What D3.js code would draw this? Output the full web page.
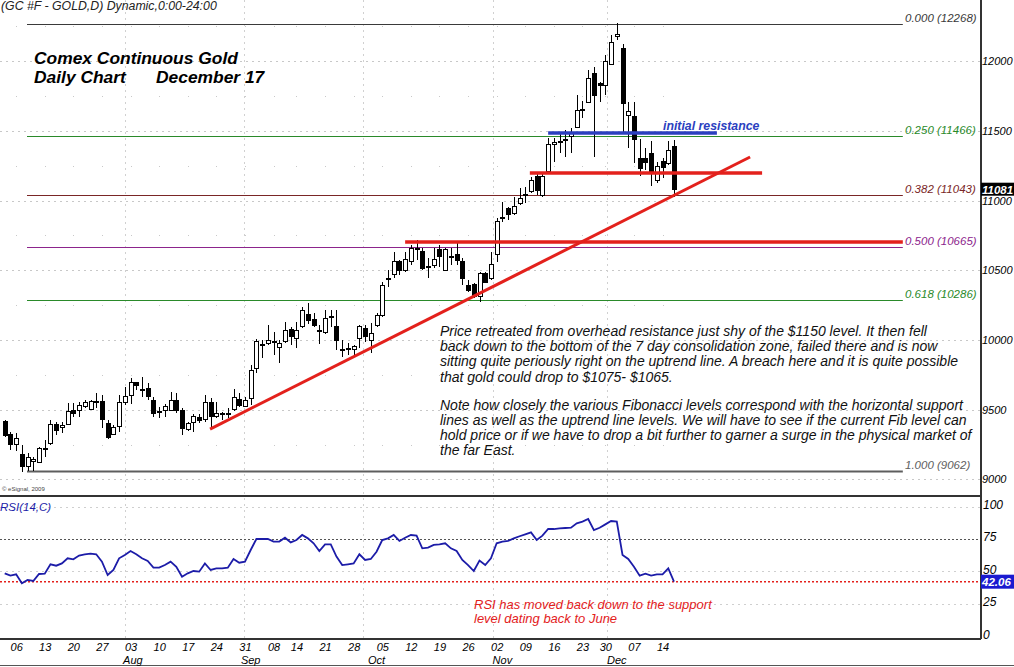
<!DOCTYPE html>
<html>
<head>
<meta charset="utf-8">
<script src="https://cdn.jsdelivr.net/npm/d3@7"></script>
<style>
body { margin: 0; background: #fff; }
svg { display: block; font-family: "Liberation Sans", Arial, sans-serif; font-style: italic; }
</style>
</head>
<body>
<svg id="chart" width="1014" height="667"></svg>
<script>
// Daily OHLC, one entry per trading day (Jul 1 .. Dec 17, 2009), dollars
var open = [941.4,932.5,925.1,917.5,909.6,912.7,912.2,921.5,925.4,939.7,
  937.5,939.5,949.7,949.7,952.6,950.2,955.2,956.2,940.2,932.3,
  937.8,955.0,960.5,969.3,964.8,965.3,956.9,948.2,949.3,949.7,
  956.9,949.3,935.9,940.7,944.3,943.1,955.0,945.0,947.2,947.0,
  950.2,957.4,952.1,958.1,979.6,996.3,997.5,999.2,994.7,998.7,
  1007.6,1001.1,1009.5,1017.9,1014.8,1006.9,1005.2,1016.0,1009.5,993.5,
  993.7,993.2,1001.1,1008.3,999.9,1010.7,1017.8,1043.6,1047.0,1056.1,
  1050.1,1056.1,1065.2,1063.7,1052.2,1053.7,1065.2,1050.1,1059.4,1061.3,
  1056.1,1038.9,1039.8,1031.0,1047.7,1044.1,1061.3,1086.8,1094.3,1090.7,
  1097.9,1103.6,1106.3,1117.1,1103.9,1120.7,1140.5,1142.0,1144.1,1145.8,
  1152.5,1165.1,1170.4,1191.2,1184.0,1182.3,1197.6,1217.8,1209.1,1161.3,
  1160.1,1129.8,1130.2,1133.8,1114.7,1128.3,1126.6,1138.6];
var high = [942.6,934.2,933.0,924.7,918.7,916.3,923.5,928.2,942.6,941.4,
  941.4,954.5,954.5,955.7,956.9,956.9,962.2,960.5,942.6,939.0,
  960.5,966.5,972.5,970.1,973.7,968.9,959.3,952.1,954.1,962.9,
  961.7,951.0,941.4,946.9,946.9,960.5,958.1,955.7,948.6,951.0,
  964.6,962.2,959.3,982.0,1000.4,999.9,1010.7,1005.9,999.9,1013.1,
  1009.5,1013.1,1023.8,1026.7,1019.1,1010.7,1021.5,1021.5,1021.5,999.9,
  998.0,996.4,1010.7,1010.7,1011.9,1019.0,1041.7,1050.1,1062.8,1057.3,
  1062.8,1068.0,1071.6,1065.6,1059.0,1065.6,1068.0,1065.6,1065.6,1069.2,
  1059.0,1042.9,1040.6,1048.4,1048.9,1062.8,1087.2,1099.1,1095.5,1102.7,
  1108.7,1109.9,1117.1,1119.4,1119.4,1144.6,1144.6,1149.4,1150.5,1151.7,
  1175.6,1171.3,1193.6,1196.0,1185.2,1204.3,1218.7,1227.5,1212.0,1170.4,
  1170.4,1144.1,1137.4,1142.7,1127.8,1130.7,1142.7,1143.4];
var low = [930.6,921.1,920.6,905.5,906.3,906.3,911.5,916.3,924.7,931.8,
  933.0,939.0,945.0,945.0,951.0,949.7,951.0,936.6,928.7,931.8,
  934.2,953.3,954.1,964.1,959.3,956.9,945.0,943.8,945.0,949.3,
  947.4,931.8,934.9,934.2,940.2,941.4,936.6,943.8,942.6,943.8,
  949.3,952.1,951.7,953.3,976.0,986.8,996.3,989.2,983.7,997.5,
  996.3,994.0,1008.3,1011.4,1009.5,997.1,1004.2,1009.5,992.8,988.0,
  989.2,988.0,994.0,998.7,990.4,1009.0,1016.5,1038.2,1044.1,1046.5,
  1048.9,1053.7,1057.3,1050.1,1044.1,1051.3,1052.5,1049.4,1053.7,1053.7,
  1039.4,1034.6,1029.8,1027.4,1040.6,1042.9,1056.1,1084.8,1086.0,1089.5,
  1096.7,1097.9,1105.1,1103.9,1102.7,1119.5,1127.8,1133.8,1131.4,1133.8,
  1151.7,1158.9,1169.7,1131.4,1170.4,1175.6,1197.1,1215.1,1148.2,1137.4,
  1126.6,1117.8,1121.9,1110.6,1112.3,1115.9,1125.5,1102.7];
var close = [931.8,924.7,929.4,909.6,915.8,914.4,922.3,922.5,939.7,935.4,
  938.5,948.6,947.4,953.3,955.0,955.7,956.2,942.6,930.2,937.1,
  955.2,959.3,969.3,967.0,964.0,959.8,947.4,948.9,952.6,956.9,
  949.3,936.6,940.2,945.0,942.1,955.0,945.0,946.9,946.6,947.6,
  958.8,953.3,956.9,978.4,998.7,996.8,999.9,998.0,997.1,1006.6,
  1002.3,1007.1,1021.0,1014.3,1010.7,1006.4,1015.5,1016.6,999.9,992.8,
  994.2,995.2,1009.5,1002.3,1004.7,1017.8,1039.4,1044.4,1056.1,1050.1,
  1057.8,1065.6,1065.9,1051.3,1052.8,1058.0,1059.7,1064.9,1060.0,1057.3,
  1044.1,1035.8,1031.0,1047.7,1041.3,1054.2,1084.8,1087.5,1090.0,1095.5,
  1101.5,1104.1,1114.2,1107.5,1117.1,1139.8,1141.5,1142.5,1142.7,1148.2,
  1164.4,1165.6,1187.6,1175.6,1182.3,1200.0,1213.4,1218.7,1169.7,1163.7,
  1144.1,1122.6,1127.4,1120.7,1124.3,1123.5,1136.2,1108.1];

// RSI(14,C) per day
var rsi = [48.5,46.7,47.7,40.8,43.4,42.6,48.0,48.3,55.5,54.4,
  56.2,60.1,59.3,62.2,63.2,63.7,63.2,57.5,47.2,51.1,
  60.1,62.7,65.7,63.2,60.1,58.0,52.9,52.9,54.9,57.5,
  53.6,45.9,48.5,50.3,49.8,56.2,51.1,52.4,52.4,52.9,
  59.6,56.7,57.5,66.5,75.0,75.0,75.0,73.0,73.0,76.0,
  72.4,74.2,78.1,75.5,71.7,65.7,70.9,70.9,61.4,54.9,
  55.5,56.2,63.2,58.8,59.6,65.2,74.2,75.5,78.1,73.5,
  76.0,78.1,77.6,67.8,68.3,70.4,70.9,71.7,67.8,65.7,
  58.8,54.9,50.3,58.3,54.9,60.1,71.7,73.0,73.5,75.5,
  77.1,78.6,80.1,74.2,77.6,82.7,82.7,83.2,83.5,83.7,
  87.1,88.4,90.4,81.9,83.7,86.3,88.9,88.4,62.7,59.6,
  53.6,46.7,48.3,46.7,47.7,47.7,52.4,42.06];

// axis ticks
var priceTicks = [900, 950, 1000, 1050, 1100, 1150, 1200];
var rsiTicks = [0, 25, 50, 75, 100];
var weekIdx = [2,7,12,17,22,27,32,37,42,47,51,56,61,66,71,76,81,86,91,96,101,105,110,115];
var weekLabels = ["06","13","20","27","03","10","17","24","31","08","14","21","28","05","12","19","26","02","09","16","23","30","07","14"];
var monthIdx = [22.4, 43, 65, 87, 107];
var monthLabels = ["Aug", "Sep", "Oct", "Nov", "Dec"];
var monthGridIdx = [21, 41.8, 62.6, 85.3, 105.3];

// Fibonacci retracement (swing low Jul 8 -> high Dec 3)
var fibRatio = ["0.000", "0.250", "0.382", "0.500", "0.618", "1.000"];
var fibPrice = [1226.8, 1146.6, 1104.3, 1066.5, 1028.6, 906.2];
var fibColor = ["#3a3a3a", "#2a8a2a", "#7a2626", "#8c248c", "#2a8a2a", "#5e5e5e"];

// hand drawn studies: [index, price] ends
var trendLine = [[35.9, 936.1], [130.3, 1131.2]];
var supportLines = [[[70, 1070.2], [157, 1070.2]], [[91.8, 1119.7], [132.4, 1119.7]]];
var resistLine = [[95, 1148.4], [124.5, 1148.4]];
var rsiSupport = 42.06;

var note = [
  "Price retreated from overhead resistance just shy of the $1150 level. It then fell",
  "back down to the bottom of the 7 day consolidation zone, failed there and is now",
  "sitting quite periously right on the uptrend line. A breach here and it is quite possible",
  "that gold could drop to $1075- $1065.",
  "Note how closely the various Fibonacci levels correspond with the horizontal support",
  "lines as well as the uptrend line levels. We will have to see if the current Fib level can",
  "hold price or if we have to drop a bit further to garner a surge in the physical market of",
  "the far East."
];

var AX = 981, PANEL_BOT = 496, RSI_BOT = 639;
var svg = d3.select("#chart");
var x = d3.scaleLinear().domain([0, 117]).range([4.7, 674]);
var y = d3.scaleLinear().domain([900, 1200]).range([479.4, 61.05]);
var yR = d3.scaleLinear().domain([0, 100]).range([636.2, 506.6]);
var n = open.length;
var days = d3.range(n);

// grid
var grid = svg.append("g").attr("shape-rendering", "crispEdges");
grid.selectAll(".gh").data(priceTicks).enter().append("line")
  .attr("x1", 0).attr("x2", AX)
  .attr("y1", function(d) { return Math.round(y(d)) + 0.5; })
  .attr("y2", function(d) { return Math.round(y(d)) + 0.5; })
  .attr("stroke", "#c8c8c8").attr("stroke-dasharray", "2,4");
grid.selectAll(".gv").data(monthGridIdx).enter().append("line")
  .attr("x1", function(d) { return Math.round(x(d)) + 0.5; })
  .attr("x2", function(d) { return Math.round(x(d)) + 0.5; })
  .attr("y1", 0).attr("y2", RSI_BOT)
  .attr("stroke", "#d0d0d0").attr("stroke-dasharray", "2,4");
// sparse minor dots
var minor = [];
weekIdx.forEach(function(w) { [925, 975, 1025, 1075, 1125, 1175, 1225].forEach(function(p) { minor.push([w, p]); }); });
grid.selectAll(".gm").data(minor).enter().append("rect")
  .attr("x", function(d) { return Math.round(x(d[0])); })
  .attr("y", function(d) { return Math.round(y(d[1])); })
  .attr("width", 1).attr("height", 1).attr("fill", "#c8c8c8");
grid.selectAll(".gr").data([25, 50, 100]).enter().append("line")
  .attr("x1", 0).attr("x2", AX)
  .attr("y1", function(d) { return Math.round(yR(d)) + 0.5; })
  .attr("y2", function(d) { return Math.round(yR(d)) + 0.5; })
  .attr("stroke", "#cfcfcf").attr("stroke-dasharray", "2,4");
grid.append("line").attr("x1", 0).attr("x2", AX)
  .attr("y1", Math.round(yR(75)) + 0.5).attr("y2", Math.round(yR(75)) + 0.5)
  .attr("stroke", "#555").attr("stroke-dasharray", "2,2");

// fib levels
var fib = svg.append("g");
fib.selectAll("line").data(fibPrice).enter().append("line")
  .attr("x1", x(3.9)).attr("x2", x(157))
  .attr("y1", function(d) { return Math.round(y(d)) + 0.5; })
  .attr("y2", function(d) { return Math.round(y(d)) + 0.5; })
  .attr("stroke", function(d, i) { return fibColor[i]; })
  .attr("stroke-width", function(d, i) { return i === 5 ? 2 : 1; });
fib.selectAll("text").data(fibPrice).enter().append("text")
  .attr("x", 905).attr("y", function(d) { return y(d) - 2; })
  .attr("font-size", "11.5px")
  .attr("fill", function(d, i) { return fibColor[i]; })
  .text(function(d, i) { return fibRatio[i] + " (" + Math.round(d * 10) + ")"; });

// candles
var cg = svg.append("g").attr("shape-rendering", "crispEdges");
cg.selectAll("line").data(days).enter().append("line")
  .attr("x1", function(i) { return Math.round(x(i)) + 0.5; })
  .attr("x2", function(i) { return Math.round(x(i)) + 0.5; })
  .attr("y1", function(i) { return y(high[i]); })
  .attr("y2", function(i) { return y(low[i]); })
  .attr("stroke", "#000");
cg.selectAll("rect").data(days).enter().append("rect")
  .attr("x", function(i) { return Math.round(x(i)) - 1.5; })
  .attr("width", 4)
  .attr("y", function(i) { return y(Math.max(open[i], close[i])); })
  .attr("height", function(i) { return Math.max(1, Math.abs(y(open[i]) - y(close[i]))); })
  .attr("fill", function(i) { return close[i] >= open[i] ? "#fff" : "#000"; })
  .attr("stroke", "#000").attr("stroke-width", 1);

// studies
var ln = d3.line().x(function(d) { return x(d[0]); }).y(function(d) { return y(d[1]); });
svg.selectAll(".sup").data(supportLines).enter().append("path")
  .attr("d", ln).attr("stroke", "#e3211c").attr("stroke-width", 3.5).attr("fill", "none");
svg.append("path").datum(resistLine).attr("d", ln)
  .attr("stroke", "#2b3fbf").attr("stroke-width", 3.5).attr("fill", "none");
svg.append("path").datum(trendLine).attr("d", ln)
  .attr("stroke", "#e3211c").attr("stroke-width", 3).attr("fill", "none");
svg.append("text").attr("x", 663).attr("y", 130).attr("font-size", "12.3px").attr("font-weight", "bold")
  .attr("fill", "#2b3fbf").text("initial resistance");

// RSI panel
svg.append("line").attr("x1", 0).attr("x2", AX)
  .attr("y1", yR(rsiSupport)).attr("y2", yR(rsiSupport))
  .attr("stroke", "#e3211c").attr("stroke-width", 1.5).attr("stroke-dasharray", "2,2");
svg.append("path").datum(days)
  .attr("d", d3.line().x(function(i) { return x(i); }).y(function(i) { return yR(rsi[i]); }))
  .attr("stroke", "#1c1ca8").attr("stroke-width", 1.8).attr("fill", "none");

// frame
var fr = svg.append("g").attr("stroke", "#333").attr("shape-rendering", "crispEdges");
fr.append("line").attr("x1", 0).attr("x2", AX).attr("y1", PANEL_BOT).attr("y2", PANEL_BOT).attr("stroke-width", 1.5);
fr.append("line").attr("x1", 0).attr("x2", AX).attr("y1", RSI_BOT).attr("y2", RSI_BOT).attr("stroke-width", 1.5);
fr.append("line").attr("x1", AX).attr("x2", AX).attr("y1", 0).attr("y2", RSI_BOT).attr("stroke-width", 1.5);
fr.append("line").attr("x1", 0).attr("x2", 1014).attr("y1", 665.5).attr("y2", 665.5).attr("stroke", "#555");

// axes
var ay = svg.append("g").attr("transform", "translate(" + AX + ",0)")
  .call(d3.axisRight(y).tickValues(priceTicks).tickSize(0).tickPadding(1)
    .tickFormat(function(d) { return d * 10; }));
var ar = svg.append("g").attr("transform", "translate(" + AX + ",-2)")
  .call(d3.axisRight(yR).tickValues(rsiTicks).tickSize(0).tickPadding(2));
var ax = svg.append("g").attr("transform", "translate(0," + RSI_BOT + ")")
  .call(d3.axisBottom(x).tickValues(weekIdx).tickSize(0).tickPadding(4)
    .tickFormat(function(d, i) { return weekLabels[i]; }));
[ay, ar, ax].forEach(function(a) {
  a.select(".domain").remove();
  a.selectAll("text").attr("font-family", null).attr("font-size", "11px").attr("fill", "#000");
});
ar.selectAll("text").attr("font-size", "12px");
svg.selectAll(".month").data(monthLabels).enter().append("text")
  .attr("x", function(d, i) { return x(monthIdx[i]); }).attr("y", 664)
  .attr("text-anchor", "middle").attr("font-size", "11px").text(function(d) { return d; });

// last value boxes
var last = close[n - 1];
svg.append("rect").attr("x", AX).attr("y", y(last) - 6.5).attr("width", 34).attr("height", 13).attr("fill", "#000");
svg.append("text").attr("x", AX + 1).attr("y", y(last) + 4.5).attr("font-size", "11.5px")
  .attr("font-weight", "bold").attr("fill", "#fff").text(Math.round(last * 10));
svg.append("rect").attr("x", AX).attr("y", yR(rsiSupport) - 7).attr("width", 34).attr("height", 14).attr("fill", "#1a1ad0");
svg.append("text").attr("x", AX + 1).attr("y", yR(rsiSupport) + 4.5).attr("font-size", "11.5px")
  .attr("font-weight", "bold").attr("fill", "#fff").text(rsiSupport.toFixed(2));

// texts
svg.append("text").attr("x", 1).attr("y", 10).attr("font-size", "12.3px").attr("fill", "#222")
  .text("(GC #F - GOLD,D) Dynamic,0:00-24:00");
svg.append("text").attr("x", 34).attr("y", 64).attr("font-size", "17.4px").attr("font-weight", "bold")
  .text("Comex Continuous Gold");
svg.append("text").attr("x", 34).attr("y", 83).attr("font-size", "17.4px").attr("font-weight", "bold")
  .text("Daily Chart");
svg.append("text").attr("x", 156).attr("y", 83).attr("font-size", "17.4px").attr("font-weight", "bold")
  .text("December 17");
svg.selectAll(".note").data(note).enter().append("text")
  .attr("x", 440)
  .attr("y", function(d, i) { return i < 4 ? 335.5 + i * 15.4 : 409.5 + (i - 4) * 15; })
  .attr("font-size", "14px").attr("fill", "#111").text(function(d) { return d; });
svg.append("text").attr("x", 2).attr("y", 491).attr("font-size", "6px").attr("font-style", "normal")
  .attr("fill", "#444").text("\u00a9 eSignal, 2009");
svg.append("text").attr("x", 0).attr("y", 511).attr("font-size", "11.5px").attr("fill", "#1c1ca8").text("RSI(14,C)");
svg.append("text").attr("x", 474).attr("y", 609).attr("font-size", "13px").attr("fill", "#e3211c")
  .text("RSI has moved back down to the support");
svg.append("text").attr("x", 474).attr("y", 623).attr("font-size", "13px").attr("fill", "#e3211c")
  .text("level dating back to June");
</script>
</body>
</html>
